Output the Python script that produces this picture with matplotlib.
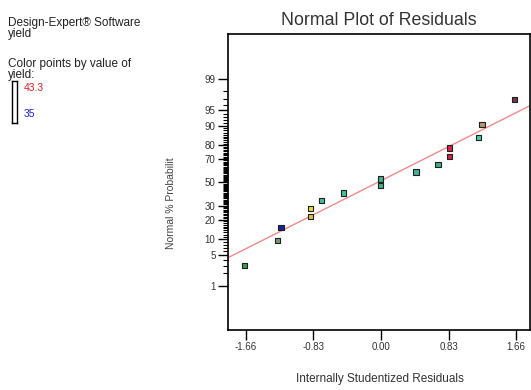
from statistics import NormalDist

import numpy as np
import matplotlib
matplotlib.use("Agg")
import matplotlib.pyplot as plt

plt.rcParams["font.family"] = ["Liberation Sans", "DejaVu Sans"]

# residuals, ordered by rank
residuals = [-1.68, -1.27, -1.23, -0.87, -0.87, -0.73, -0.46, -0.01,
             -0.01, 0.43, 0.70, 0.84, 0.84, 1.20, 1.24, 1.64]
# normal % probability of each point
probabilities = [3.1, 9.4, 15.6, 21.9, 28.1, 34.4, 40.6, 46.9,
                 53.1, 59.4, 65.6, 71.9, 78.1, 84.4, 90.6, 96.9]
point_colors = ["#3f9a5a", "#7a9a72", "#14209c", "#d8c63a", "#e6dc3c",
                "#3fbf9c", "#3fc4a0", "#3fb487", "#3fb487", "#3fb490",
                "#3fae80", "#d42440", "#dc2244", "#44d0a4", "#b49474",
                "#7c3444"]

x_ticks = [-1.66, -0.83, 0.00, 0.83, 1.66]
y_ticks = [1, 5, 10, 20, 30, 50, 70, 80, 90, 95, 99]
y_minor = [v for v in range(2, 99) if v not in y_ticks]

# fitted line in normal-score units: z = slope * residual + intercept
fit_slope = 0.925
fit_intercept = 0.04
fit_x = [-2.2, 2.2]

color_low, color_high = 35, 43.3

nd = NormalDist()
_inv = np.vectorize(nd.inv_cdf)
_cdf = np.vectorize(nd.cdf)


def prob_forward(p):
    p = np.clip(np.asarray(p, dtype=float), 1e-7, 100 - 1e-7)
    return _inv(p / 100.0)


def prob_inverse(z):
    return _cdf(np.asarray(z, dtype=float)) * 100.0


fig = plt.figure(figsize=(5.31, 3.90), dpi=100)
ax = fig.add_axes([228 / 531, 1 - 330 / 390, 302 / 531, 296 / 390])
ax.set_yscale("function", functions=(prob_forward, prob_inverse))

fit_p = [nd.cdf(fit_slope * x + fit_intercept) * 100 for x in fit_x]
ax.plot(fit_x, fit_p, color="#f08a8a", lw=1.0, zorder=2)

ax.scatter(residuals, probabilities, marker="s", s=14, c=point_colors,
           edgecolors="#202020", linewidths=0.8, zorder=3)

ax.set_xlim(-1.88, 1.83)
ax.set_ylim(prob_inverse(-3.33), prob_inverse(3.35))

ax.set_xticks(x_ticks)
ax.set_xticklabels([f"{v:.2f}" for v in x_ticks])
ax.set_yticks(y_ticks)
ax.set_yticklabels([str(v) for v in y_ticks])
ax.set_yticks(y_minor, minor=True)
ax.tick_params(axis="both", which="major", direction="out", length=7,
               width=1, labelsize=7, labelcolor="#333333", pad=2)
ax.tick_params(axis="y", which="minor", direction="out", length=3.5,
               width=0.8)
ax.tick_params(axis="x", which="minor", bottom=False)
for side in ax.spines.values():
    side.set_linewidth(1.2)

fig.text(379 / 531, 1 - 20.5 / 390, "Normal Plot of Residuals",
         ha="center", va="center", fontsize=12.8, color="#333333")
fig.text(380 / 531, 1 - 379 / 390, "Internally Studentized Residuals",
         ha="center", va="center", fontsize=8.5, color="#333333")
fig.text(171 / 531, 1 - 203 / 390, "Normal % Probabilit", rotation=90,
         ha="center", va="center", fontsize=7.5, color="#444444")

# legend block on the left
fig.text(8 / 531, 1 - 17 / 390, "Design-Expert\u00ae Software\nyield",
         ha="left", va="top", fontsize=8.5, linespacing=0.9,
         color="#222222")
fig.text(8 / 531, 1 - 58 / 390, "Color points by value of\nyield:",
         ha="left", va="top", fontsize=8.5, linespacing=0.9,
         color="#222222")
bar = fig.add_axes([12 / 531, 1 - 123 / 390, 5 / 531, 42 / 390])
bar.set_xticks([])
bar.set_yticks([])
for side in bar.spines.values():
    side.set_linewidth(1.0)
fig.text(24 / 531, 1 - 88 / 390, f"{color_high}", ha="left", va="center",
         fontsize=7.5, color="#e02020")
fig.text(24 / 531, 1 - 114 / 390, f"{color_low}", ha="left",
         va="center", fontsize=7.5, color="#2020d0")

fig.savefig("out.png", dpi=100)
